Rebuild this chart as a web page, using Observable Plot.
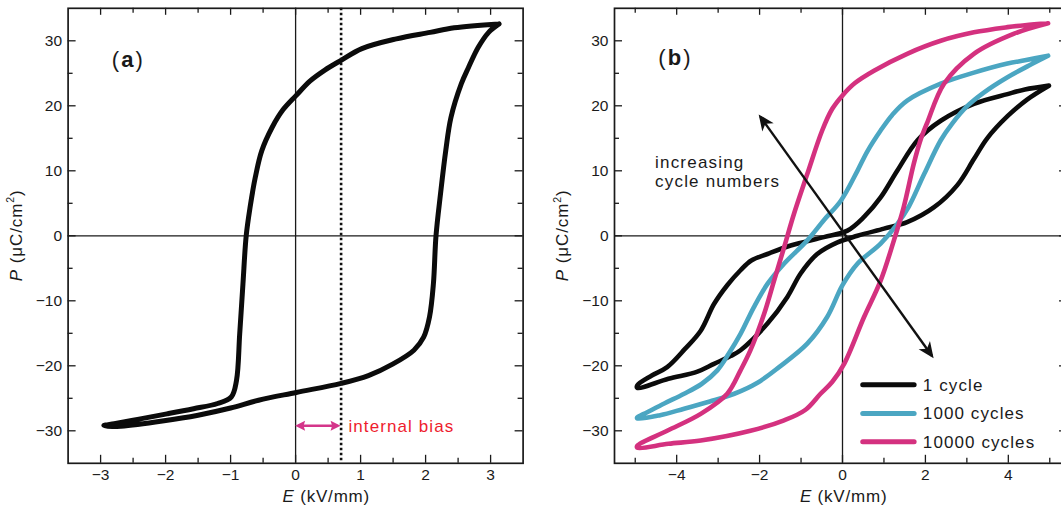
<!DOCTYPE html>
<html>
<head>
<meta charset="utf-8">
<script src="https://cdn.jsdelivr.net/npm/d3@7"></script>
<script src="https://cdn.jsdelivr.net/npm/@observablehq/plot@0.6"></script>
<style>
html, body { margin: 0; padding: 0; background: #fff; overflow: hidden; width: 1061px; height: 510px; }
#wrap { position: relative; width: 1061px; height: 510px; overflow: hidden; }
#wrap svg { position: absolute; top: 0; }
</style>
</head>
<body>
<div id="wrap"></div>
<script>
// ---------- tick values ----------
const yMajor = [-30, -20, -10, 0, 10, 20, 30];
const yMinor = [-25, -15, -5, 5, 15, 25];
const aXMajor = [-3, -2, -1, 0, 1, 2, 3];
const aXMinor = [-2.5, -1.5, -0.5, 0.5, 1.5, 2.5];
const bXMajor = [-4, -2, 0, 2, 4];
const bXMinor = [-5, -3, -1, 1, 3, 5];

// ---------- panel (a): single hysteresis loop ----------
const loopA_E = [3.13, 2.44, 2.07, 1.55, 1.02, 0.70, 0.45, 0.22, 0.01, -0.20, -0.36, -0.52, -0.62, -0.70, -0.76, -0.81, -0.86, -0.91, -0.99, -1.20, -1.57, -1.98, -2.41, -2.79, -2.95, -2.82, -2.69, -2.05, -1.5, -1.0, -0.57, 0.01, 0.70, 1.12, 1.50, 1.82, 1.97, 2.06, 2.12, 2.16, 2.23, 2.31, 2.39, 2.55, 2.66, 2.81, 2.97, 3.13];
const loopA_P = [32.6, 32.0, 31.3, 30.3, 28.8, 27.0, 25.5, 23.8, 21.6, 19.3, 16.7, 13.1, 9.0, 4.4, 0, -7.4, -15.1, -22.3, -24.8, -25.8, -26.6, -27.4, -28.2, -28.9, -29.2, -29.35, -29.3, -28.5, -27.6, -26.5, -25.3, -24.1, -22.7, -21.5, -19.7, -17.6, -15.6, -12.5, -7.4, 0, 6.5, 13.1, 18.2, 23.4, 25.9, 29.0, 31.3, 32.6];
const biasE = 0.7;      // internal bias field
const biasArrowP = -29.3;

// ---------- panel (b): loops after cycling ----------
const seriesNames = ["1 cycle", "1000 cycles", "10000 cycles"];
const seriesColors = ["#0b0b0b", "#4ba6c2", "#d4317f"];

const cycle1_E = [4.98, 4.4, 3.98, 3.17, 2.37, 1.81, 1.32, 0.92, 0.52, 0.12, -0.45, -1.25, -1.81, -2.2, -2.46, -2.78, -3.1, -3.42, -3.8, -4.23, -4.6, -4.95,
                  -4.95, -4.2, -3.5, -3.1, -2.7, -2.46, -1.81, -1.33, -1.01, -0.61, -0.12, 0.36, 1.0, 1.56, 2.21, 2.77, 3.17, 3.49, 3.98, 4.46, 4.98];
const cycle1_P = [23.1, 22.5, 21.8, 20.3, 17.7, 14.7, 10.0, 5.9, 2.9, 0.8, -0.2, -1.5, -2.8, -3.8, -5.3, -7.6, -10.5, -14.6, -17.4, -20.2, -21.5, -23.0,
                  -23.4, -22.0, -20.9, -19.7, -18.5, -17.6, -13.5, -9.4, -5.8, -2.8, -1.0, 0.0, 1.1, 2.1, 4.4, 7.8, 11.8, 15.0, 18.4, 21.0, 23.1];

const cycle1000_E = [4.96, 4.4, 3.98, 3.17, 2.37, 1.56, 1.2, 0.92, 0.6, 0.36, -0.04, -0.45, -0.85, -1.41, -1.81, -2.14, -2.46, -2.75, -3.02, -3.4, -3.82, -4.3, -4.79, -4.95,
                     -4.95, -4.4, -3.82, -3.2, -2.61, -2.05, -1.53, -0.85, -0.37, 0, 0.36, 0.92, 1.32, 1.6, 1.97, 2.37, 2.65, 3.0, 3.4, 3.98, 4.5, 4.96];
const cycle1000_P = [27.7, 27.0, 26.5, 25.1, 23.4, 20.8, 18.6, 16.2, 13.0, 10.0, 5.4, 2.4, -0.7, -4.3, -7.4, -11.0, -15.1, -18.2, -20.7, -22.8, -24.3, -25.8, -27.4, -27.9,
                     -28.1, -27.6, -26.6, -25.5, -24.3, -22.6, -20.2, -16.6, -12.5, -7.6, -4.3, -1.2, 1.8, 4.5, 9.5, 14.7, 17.3, 19.9, 22.0, 24.4, 26.2, 27.7];

const cycle10000_E = [4.96, 4.4, 3.98, 3.17, 2.37, 1.56, 0.76, 0.3, 0.0, -0.25, -0.49, -0.85, -1.17, -1.41, -1.65, -1.89, -2.22, -2.46, -2.78, -3.42, -4.23, -4.95,
                      -4.95, -4.2, -3.42, -2.22, -1.41, -0.9, -0.53, -0.25, 0.04, 0.52, 0.92, 1.24, 1.48, 1.72, 1.88, 2.05, 2.45, 3.17, 4.14, 4.96];
const cycle10000_P = [32.7, 32.4, 32.1, 31.3, 30.0, 28.0, 25.4, 23.5, 21.6, 19.5, 16.2, 9.5, 3.4, -1.8, -6.9, -12.0, -17.6, -20.7, -24.3, -27.4, -30.0, -32.3,
                      -32.6, -32.0, -31.5, -30.0, -28.4, -26.8, -24.3, -22.5, -19.7, -12.5, -6.9, -0.7, 4.5, 11.1, 14.7, 17.5, 23.4, 28.0, 31.1, 32.7];

const arrowB_from = [-2.01, 18.6];
const arrowB_to = [2.21, -18.9];

// ---------- build tables ----------
const toRows = (E, P, series) => E.map((e, i) => ({E: e, P: P[i], series}));
const loopA = toRows(loopA_E, loopA_P, "loop");
const loopsB = [
  toRows(cycle1_E, cycle1_P, seriesNames[0]),
  toRows(cycle1000_E, cycle1000_P, seriesNames[1]),
  toRows(cycle10000_E, cycle10000_P, seriesNames[2])
];

// ---------- layout / style ----------
const FONT = "'Liberation Sans', Arial, Helvetica, sans-serif";
const INK = "#1a1a1a";
const H = 510, MT = 7.8, MB = 47.2;
const fmt = d => (d < 0 ? "\u2212" + Math.abs(d) : String(d));

function baseMarks(cfg) {
  const innerW = cfg.width - cfg.marginLeft - cfg.marginRight;
  const innerH = H - MT - MB;
  const tk = {stroke: INK, strokeWidth: 1.3};
  const rl = cfg.rightLen || [8, 5];
  return [
    Plot.ruleX([0], {stroke: INK, strokeWidth: 1.3}),
    Plot.ruleY([0], {stroke: INK, strokeWidth: 1.3}),
    Plot.tickX(cfg.xMajor, {x: d => d, insetTop: innerH - 8, ...tk}),
    Plot.tickX(cfg.xMinor, {x: d => d, insetTop: innerH - 5, ...tk}),
    Plot.tickX(cfg.xMajor, {x: d => d, insetBottom: innerH - 7, ...tk}),
    Plot.tickX(cfg.xMinor, {x: d => d, insetBottom: innerH - 5, ...tk}),
    Plot.tickY(yMajor, {y: d => d, insetRight: innerW - 8, ...tk}),
    Plot.tickY(yMinor, {y: d => d, insetRight: innerW - 5, ...tk}),
    Plot.tickY(yMajor, {y: d => d, insetLeft: innerW - rl[0], ...tk}),
    Plot.tickY(yMinor, {y: d => d, insetLeft: innerW - rl[1], ...tk}),
    Plot.axisX(cfg.xMajor, {tickSize: 0, tickPadding: 6, tickFormat: fmt, label: null, fill: INK}),
    Plot.axisY(yMajor, {tickSize: 0, tickPadding: 6, tickFormat: fmt, label: null, fill: INK}),
    Plot.frame({stroke: INK, strokeWidth: 1.7})
  ];
}

function makePlot(cfg, marks) {
  return Plot.plot({
    width: cfg.width, height: H,
    marginLeft: cfg.marginLeft, marginRight: cfg.marginRight, marginTop: MT, marginBottom: MB,
    x: {domain: cfg.xDomain, axis: null},
    y: {domain: [-35, 35], axis: null},
    style: {fontFamily: FONT, fontSize: "15.5px", color: INK, background: "none"},
    marks: [...baseMarks(cfg), ...marks]
  });
}

function richText(parent, x, y, parts, o) {
  const t = parent.append("text")
    .attr("x", x).attr("y", y)
    .attr("font-family", FONT).attr("font-size", o.size)
    .attr("fill", o.fill || INK)
    .attr("text-anchor", o.anchor || "start")
    .style("letter-spacing", (o.ls || 0) + "px");
  if (o.rotate) t.attr("transform", `rotate(-90 ${x} ${y})`);
  let shifted = 0;
  for (const p of parts) {
    const s = t.append("tspan").text(p.t);
    if (p.italic) s.attr("font-style", "italic");
    if (p.bold) s.attr("font-weight", "bold");
    if (p.sup) { s.attr("font-size", o.size * 0.62).attr("dy", -o.size * 0.42); shifted = o.size * 0.42; }
    else if (shifted) { s.attr("dy", shifted); shifted = 0; }
  }
  return t;
}

function addMarker(defs, id, color, L, W, notch, back) {
  defs.append("marker").attr("id", id)
    .attr("markerUnits", "userSpaceOnUse")
    .attr("viewBox", `${-L - 1} ${-W - 1} ${L + 2} ${2 * W + 2}`)
    .attr("markerWidth", L + 2).attr("markerHeight", 2 * W + 2)
    .attr("refX", -back).attr("refY", 0)
    .attr("orient", "auto-start-reverse")
    .append("path")
    .attr("d", `M0,0L${-L},${-W}L${-L + notch},0L${-L},${W}Z`)
    .attr("fill", color);
}

function doubleArrow(g, sx, sy, from, to, color, width, id, back) {
  const x1 = sx.apply(from[0]), y1 = sy.apply(from[1]);
  const x2 = sx.apply(to[0]), y2 = sy.apply(to[1]);
  const len = Math.hypot(x2 - x1, y2 - y1), ux = (x2 - x1) / len, uy = (y2 - y1) / len;
  g.append("line")
    .attr("x1", x1 + ux * back).attr("y1", y1 + uy * back)
    .attr("x2", x2 - ux * back).attr("y2", y2 - uy * back)
    .attr("stroke", color).attr("stroke-width", width)
    .attr("marker-start", `url(#${id})`).attr("marker-end", `url(#${id})`);
}

function yTitle(g, x) {
  richText(g, x, (MT + H - MB) / 2, [{t: "P", italic: true}, {t: " (\u03bcC/cm"}, {t: "2", sup: true}, {t: ")"}],
    {size: 17, ls: 0.9, anchor: "middle", rotate: true});
}
function xTitle(g, x) {
  richText(g, x, 502, [{t: "E", italic: true}, {t: " (kV/mm)"}], {size: 17, ls: 0.8, anchor: "middle"});
}

const wrap = document.getElementById("wrap");

// ---------- panel (a) ----------
const cfgA = {width: 540, marginLeft: 67.6, marginRight: 17.4, xDomain: [-3.5, 3.5], xMajor: aXMajor, xMinor: aXMinor};
const svgA = makePlot(cfgA, [
  Plot.line(loopA, {x: "E", y: "P", stroke: "#0b0b0b", strokeWidth: 5, curve: "catmull-rom", strokeLinejoin: "round", strokeLinecap: "round"}),
  Plot.ruleX([biasE], {stroke: "#111", strokeWidth: 2.6, strokeDasharray: "2.4,2.6"})
]);
svgA.style.left = "0px";
wrap.appendChild(svgA);
{
  const sx = svgA.scale("x"), sy = svgA.scale("y"), g = d3.select(svgA);
  const defs = g.append("defs");
  addMarker(defs, "headA", "#d4358a", 10, 5, 1.5, 3);
  doubleArrow(g, sx, sy, [0, biasArrowP], [biasE, biasArrowP], "#d4358a", 2.6, "headA", 3);
  richText(g, sx.apply(0.82), sy.apply(-30.2), [{t: "internal bias"}], {size: 17, ls: 1.1, fill: "#ee1c2e"});
  richText(g, sx.apply(-2.82), sy.apply(25.9), [{t: "("}, {t: "a", bold: true}, {t: ")"}], {size: 22, ls: 2});
  yTitle(g, cfgA.marginLeft - 46);
  xTitle(g, sx.apply(0.48));
}

// ---------- panel (b) ----------
const cfgB = {width: 530, marginLeft: 69, marginRight: 5, xDomain: [-5.5, 5.5], xMajor: bXMajor, xMinor: bXMinor, rightLen: [11, 8]};
const svgB = makePlot(cfgB, loopsB.map((rows, i) =>
  Plot.line(rows, {x: "E", y: "P", stroke: seriesColors[i], strokeWidth: 4.6, curve: "catmull-rom", strokeLinejoin: "round", strokeLinecap: "round"})
));
svgB.style.left = "545px";
wrap.appendChild(svgB);
{
  const sx = svgB.scale("x"), sy = svgB.scale("y"), g = d3.select(svgB);
  const defs = g.append("defs");
  addMarker(defs, "headB", "#111", 16, 7, 4.5, 3);
  doubleArrow(g, sx, sy, arrowB_from, arrowB_to, "#111", 2.4, "headB", 3);
  richText(g, sx.apply(-4.51), sy.apply(10.35), [{t: "increasing"}], {size: 17, ls: 1.2});
  richText(g, sx.apply(-4.51), sy.apply(7.4), [{t: "cycle numbers"}], {size: 17, ls: 1.2});
  richText(g, sx.apply(-4.43), sy.apply(26.2), [{t: "("}, {t: "b", bold: true}, {t: ")"}], {size: 22, ls: 2});
  // legend
  const legP = [-23.0, -27.4, -31.75];
  seriesNames.forEach((name, i) => {
    g.append("line")
      .attr("x1", sx.apply(0.5)).attr("x2", sx.apply(1.74))
      .attr("y1", sy.apply(legP[i])).attr("y2", sy.apply(legP[i]))
      .attr("stroke", seriesColors[i]).attr("stroke-width", 5).attr("stroke-linecap", "round");
    richText(g, sx.apply(1.95), sy.apply(legP[i]) + 6, [{t: name}], {size: 17, ls: 1.1});
  });
  yTitle(g, cfgB.marginLeft - 46);
  xTitle(g, sx.apply(0.04));
}
</script>
</body>
</html>
